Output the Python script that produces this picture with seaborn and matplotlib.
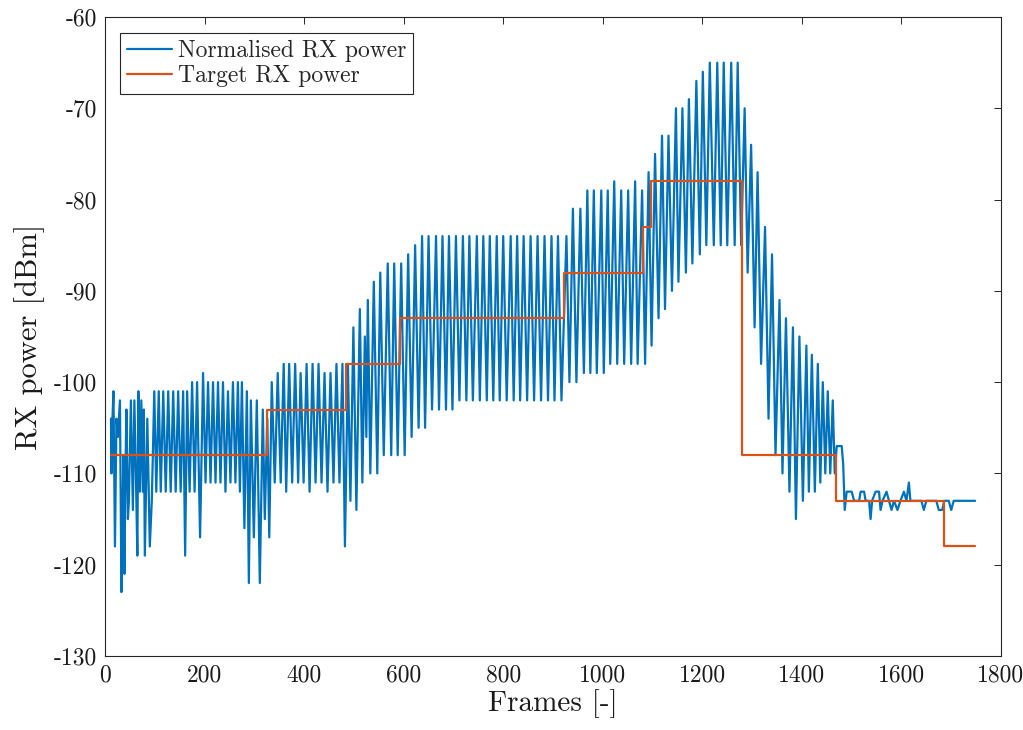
import numpy as np
import pandas as pd
import matplotlib
matplotlib.use("Agg")
import matplotlib.pyplot as plt
import seaborn as sns

# ---------------- data ----------------
# irregular start of the received power trace (frame, dBm)
start_frames = [12, 13, 15, 17, 20, 23, 26, 30, 33, 35, 37, 39, 41, 43, 46, 48, 52, 56, 59, 62,
                65, 67, 70, 73, 76, 78, 80, 85, 90, 94]
start_db = [-104, -110, -104, -101, -118, -104, -106, -102, -123, -115, -108, -121, -110, -103, -115, -113,
            -102, -114, -102, -110, -119, -101, -112, -102, -112, -103, -119, -104, -118, -113]

# peaks of the oscillating trace
peak_frames = [99, 108, 117, 127, 137, 147, 157, 165, 175, 185, 197, 207, 217, 227, 237, 247, 257, 267,
               275, 285, 293, 305, 317, 326,
               335, 347, 359, 370, 382, 393, 405, 417, 429, 441, 453, 465, 477, 488,
               499, 512, 522, 528, 540, 553, 568, 581, 595, 609, 623,
               637, 650, 665, 678, 691, 705, 719, 732, 747, 760, 773, 787, 800, 815, 828, 841, 855, 869,
               883, 897, 910, 927,
               940, 955, 969, 982, 997, 1010, 1023, 1037, 1051, 1065, 1079, 1092, 1105, 1119, 1132, 1147,
               1160, 1173, 1188, 1201, 1215, 1230, 1243, 1258, 1271,
               1285, 1298, 1311, 1326, 1340, 1355, 1368, 1382, 1395, 1409, 1420, 1432, 1442, 1452, 1462]
peak_db = [-101, -101, -101, -101, -101, -101, -101, -101, -100, -100, -99, -100, -100, -100, -100, -101,
           -100, -100, -100, -101, -102, -102, -103, -104,
           -100, -99, -98, -98, -98, -99, -98, -98, -98, -99, -99, -98, -98, -98,
           -94, -92, -95, -91, -89, -88, -87, -87, -87, -86, -85,
           -84, -84, -84, -84, -84, -84, -84, -84, -84, -84, -84, -84, -84, -84, -84, -84, -84, -84,
           -84, -84, -84, -84,
           -81, -81, -79, -79, -79, -79, -78, -79, -79, -78, -79, -77, -75, -73, -73, -70,
           -70, -69, -67, -66, -65, -65, -65, -65, -65,
           -70, -74, -77, -83, -86, -91, -93, -94, -95, -96, -97, -98, -100, -101, -102]

# troughs of the oscillating trace
trough_frames = [103, 112, 122, 132, 142, 152, 161, 170, 180, 191, 202, 212, 222, 232, 242, 252, 262, 271,
                 280, 289, 299, 311, 321, 330,
                 341, 353, 364, 376, 388, 399, 411, 423, 435, 447, 459, 471, 482, 493,
                 505, 517, 525, 533, 547, 560, 575, 588, 602, 616, 630,
                 643, 657, 671, 685, 698, 712, 726, 739, 753, 767, 780, 793, 807, 821, 834, 848, 862, 876,
                 890, 903, 917, 933,
                 947, 962, 975, 988, 1002, 1015, 1029, 1043, 1057, 1070, 1085, 1098, 1112, 1125, 1139,
                 1152, 1167, 1180, 1195, 1208, 1223, 1237, 1250, 1265, 1278,
                 1291, 1305, 1318, 1333, 1347, 1361, 1375, 1388, 1402, 1414, 1426, 1437, 1447, 1457, 1466]
trough_db = [-112, -112, -112, -112, -112, -112, -119, -112, -112, -117, -111, -111, -111, -111, -112,
             -111, -111, -112, -116, -122, -117, -122, -115, -117,
             -111, -111, -112, -111, -111, -111, -112, -111, -111, -112, -111, -111, -118, -113,
             -114, -111, -106, -110, -110, -108, -108, -108, -108, -106, -105,
             -105, -103, -103, -103, -103, -102, -102, -102, -102, -102, -102, -102, -102, -102, -102,
             -102, -102, -102, -102, -102, -102, -100,
             -100, -99, -99, -99, -99, -98, -98, -98, -98, -98, -98, -96, -93, -92, -90,
             -89, -88, -87, -86, -85, -85, -85, -85, -85, -85,
             -88, -94, -98, -104, -108, -110, -112, -115, -113, -112, -112, -111, -110, -110, -110]

# settled tail of the trace
tail_frames = [1470, 1480, 1483, 1486, 1490, 1500, 1505, 1515, 1518, 1525, 1528, 1535, 1538, 1541, 1548,
               1555, 1558, 1562, 1570, 1575, 1580, 1585, 1592, 1598, 1605, 1610, 1615, 1618, 1640, 1645,
               1650, 1670, 1675, 1682, 1686, 1695, 1700, 1705, 1748]
tail_db = [-107, -107, -109, -114, -112, -112, -113, -113, -112, -112, -113, -113, -115, -113, -112,
           -112, -114, -113, -112, -113, -114, -113, -114, -113, -112, -113, -111, -113, -113, -114,
           -113, -113, -114, -114, -113, -113, -114, -113, -113]

# target power (step changes)
target_frames = [12, 325, 485, 593, 923, 1081, 1097, 1280, 1468, 1686, 1748]
target_db = [-108, -103, -98, -93, -88, -83, -78, -108, -113, -118, -118]

x_ticks = [0, 200, 400, 600, 800, 1000, 1200, 1400, 1600, 1800]
y_ticks = [-130, -120, -110, -100, -90, -80, -70, -60]

# ---------------- build frames ----------------
rx = pd.DataFrame({
    "frame": start_frames + peak_frames + trough_frames + tail_frames,
    "db": start_db + peak_db + trough_db + tail_db,
}).sort_values("frame", kind="stable").reset_index(drop=True)
tg = pd.DataFrame({"frame": target_frames, "db": target_db})

# ---------------- style ----------------
sns.set_style("white")
plt.rcParams["font.family"] = ["cmr10", "DejaVu Serif"]
plt.rcParams["mathtext.fontset"] = "cm"
plt.rcParams["axes.unicode_minus"] = False

BLUE = "#0072BD"
ORANGE = "#D95319"
AX = "#262626"

fig = plt.figure(figsize=(10.23, 7.30), dpi=100)
left_px, right_px, top_px, bottom_px = 105, 1001, 17, 656
ax = fig.add_axes([left_px / 1023, 1 - bottom_px / 730,
                   (right_px - left_px) / 1023, (bottom_px - top_px) / 730])

sns.lineplot(data=rx, x="frame", y="db", ax=ax, color=BLUE, lw=1.6, sort=False,
             estimator=None, label="Normalised RX power")
sns.lineplot(data=tg, x="frame", y="db", ax=ax, color=ORANGE, lw=1.6, sort=False,
             estimator=None, drawstyle="steps-post", label="Target RX power")

ax.set_xlim(0, 1800)
ax.set_ylim(-130, -60)
ax.set_xticks(x_ticks)
ax.set_yticks(y_ticks)
ax.set_xticklabels([str(t) for t in x_ticks])
ax.set_yticklabels([str(t) for t in y_ticks])
ax.tick_params(direction="in", length=5, width=0.7, colors=AX, labelcolor="#1a1a1a",
               labelsize=17, top=True, right=True, pad=6)
for s in ax.spines.values():
    s.set_visible(True)
    s.set_color(AX)
    s.set_linewidth(0.8)

ax.set_xlabel("Frames [-]", fontsize=21, color="#1a1a1a", labelpad=2)
ax.set_ylabel("RX power [dBm]", fontsize=22, color="#1a1a1a", labelpad=6)

leg = ax.legend(loc="upper left", bbox_to_anchor=(15 / 896, 0.975), borderaxespad=0,
                fontsize=17, frameon=True, fancybox=False, framealpha=1,
                edgecolor=AX, handlelength=1.9, handletextpad=0.25, borderpad=0.3,
                labelspacing=0.12)
leg.get_frame().set_linewidth(0.8)

fig.savefig("out.png", dpi=100, facecolor="white")
